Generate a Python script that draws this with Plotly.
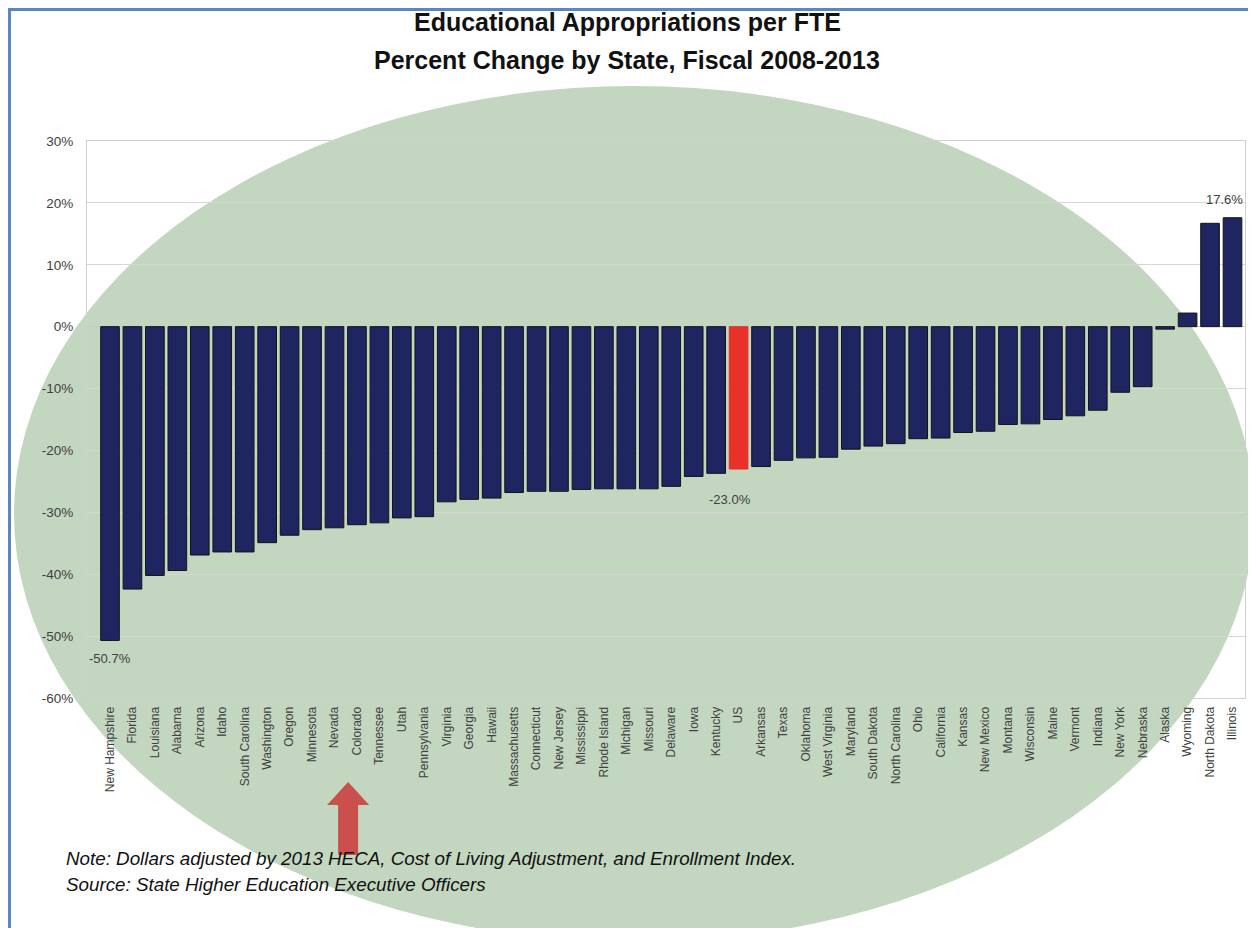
import plotly.graph_objects as go

states = ["New Hampshire", "Florida", "Louisiana", "Alabama", "Arizona", "Idaho",
          "South Carolina", "Washington", "Oregon", "Minnesota", "Nevada", "Colorado",
          "Tennessee", "Utah", "Pennsylvania", "Virginia", "Georgia", "Hawaii",
          "Massachusetts", "Connecticut", "New Jersey", "Mississippi", "Rhode Island",
          "Michigan", "Missouri", "Delaware", "Iowa", "Kentucky", "US", "Arkansas",
          "Texas", "Oklahoma", "West Virginia", "Maryland", "South Dakota",
          "North Carolina", "Ohio", "California", "Kansas", "New Mexico", "Montana",
          "Wisconsin", "Maine", "Vermont", "Indiana", "New York", "Nebraska", "Alaska",
          "Wyoming", "North Dakota", "Illinois"]

pct_change = [-50.7, -42.4, -40.2, -39.4, -36.9, -36.4,
              -36.4, -34.9, -33.7, -32.8, -32.5, -32.0,
              -31.7, -30.9, -30.7, -28.3, -27.9, -27.7,
              -26.8, -26.6, -26.6, -26.3, -26.2,
              -26.2, -26.2, -25.8, -24.2, -23.7, -23.0, -22.6,
              -21.6, -21.2, -21.1, -19.8, -19.3,
              -18.9, -18.1, -18.0, -17.1, -16.9, -15.8,
              -15.7, -15.0, -14.4, -13.5, -10.6, -9.7, -0.4,
              2.2, 16.7, 17.6]

y_ticks = [30, 20, 10, 0, -10, -20, -30, -40, -50, -60]
y_tick_labels = ["30%", "20%", "10%", "0%", "-10%", "-20%", "-30%", "-40%", "-50%", "-60%"]

labeled_states = ["New Hampshire", "US", "Illinois"]
highlight_state = "US"
arrow_state = "Colorado"

title_lines = ["Educational Appropriations per FTE", "Percent Change by State, Fiscal 2008-2013"]
note_lines = ["Note: Dollars adjusted by 2013 HECA, Cost of Living Adjustment, and Enrollment Index.",
              "Source: State Higher Education Executive Officers"]

# ---- layout geometry (page pixels; the page body adds an 8px offset) ----
OFF = 8
W, H = 1256 - OFF, 928 - OFF
PL, PR, PT, PB = 87, 1245, 141, 698        # plot area in page pixels
ML, MT = PL - OFF, PT - OFF
MR, MB = W - (PR - OFF), H - (PB - OFF)
PW, PH = PR - PL, PB - PT


def px(x):
    return (x - PL) / PW


def py(y):
    return (PB - y) / PH


NAVY = "#1f2560"
RED = "#e8312b"
GREEN = "#c3d6c0"
TXT = "#404040"
FONT = "Liberation Sans, Arial, sans-serif"

colors = [RED if s == highlight_state else NAVY for s in states]
line_colors = [RED if s == highlight_state else "#141414" for s in states]

fig = go.Figure()
fig.add_trace(go.Bar(
    x=states, y=pct_change,
    marker=dict(color=colors, line=dict(color=line_colors, width=1)),
    hoverinfo="x+y",
))

shapes = []
# green ellipse background
ecx, ecy, erx, ery = 634, 514, 620, 428
shapes.append(dict(type="circle", xref="paper", yref="paper",
                   x0=px(ecx - erx), x1=px(ecx + erx), y0=py(ecy + ery), y1=py(ecy - ery),
                   fillcolor=GREEN, line=dict(width=0), layer="below"))
# outer frame
shapes.append(dict(type="line", xref="paper", yref="paper", x0=px(OFF), x1=px(1252),
                   y0=py(OFF + 1.5), y1=py(OFF + 1.5), line=dict(color="#5a86c2", width=3), layer="above"))
shapes.append(dict(type="line", xref="paper", yref="paper", x0=px(OFF + 1.5), x1=px(OFF + 1.5),
                   y0=py(OFF), y1=py(930), line=dict(color="#5a86c2", width=3), layer="above"))
shapes.append(dict(type="line", xref="paper", yref="paper", x0=px(1250), x1=px(1250),
                   y0=py(OFF), y1=py(930), line=dict(color="#9a9a9a", width=4), layer="above"))

# block arrow under the highlighted state
ai = states.index(arrow_state)
cx = PL + (ai + 0.5) * PW / len(states)
tip, head_base, shaft_end = 782, 805, 855
hw, sw = 21, 10
pts = [(cx, tip), (cx + hw, head_base), (cx + sw, head_base), (cx + sw, shaft_end),
       (cx - sw, shaft_end), (cx - sw, head_base), (cx - hw, head_base)]
path = "M " + " L ".join(f"{px(a):.5f},{py(b):.5f}" for a, b in pts) + " Z"
shapes.append(dict(type="path", xref="paper", yref="paper", path=path,
                   fillcolor="#c9504d", line=dict(width=0), layer="above"))

annotations = []
for i, t in enumerate(title_lines):
    annotations.append(dict(xref="paper", yref="paper", x=px(627), y=py(22 + 38 * i),
                            text=f"<b>{t}</b>", showarrow=False,
                            font=dict(family=FONT, size=25, color="#111111"),
                            xanchor="center", yanchor="middle"))
for i, t in enumerate(note_lines):
    annotations.append(dict(xref="paper", yref="paper", x=px(64), y=py(858 + 26 * i),
                            text=f"<i>{t}</i>", showarrow=False,
                            font=dict(family=FONT, size=18.8, color="#111111"),
                            xanchor="left", yanchor="middle"))

label_offsets = {"New Hampshire": (0, -18), "US": (-9, -30), "Illinois": (-8, 18)}
for s in labeled_states:
    v = pct_change[states.index(s)]
    dx, dy = label_offsets[s]
    annotations.append(dict(x=s, y=v, xref="x", yref="y", text=f"{v:.1f}%",
                            showarrow=False, xshift=dx, yshift=dy,
                            font=dict(family=FONT, size=13, color=TXT),
                            xanchor="center", yanchor="middle"))

fig.update_layout(
    width=W, height=H,
    margin=dict(l=ML, r=MR, t=MT, b=MB, pad=0),
    paper_bgcolor="white", plot_bgcolor="rgba(0,0,0,0)",
    showlegend=False, bargap=0.17,
    shapes=shapes, annotations=annotations,
    font=dict(family=FONT, color=TXT),
)
fig.update_xaxes(type="category", tickangle=-90, tickfont=dict(size=12, color=TXT, family=FONT),
                 showline=True, mirror=True, linecolor="#d0d0d0", linewidth=1,
                 ticks="", showgrid=False, ticklabelstandoff=3)
fig.update_yaxes(range=[-60, 30], tickvals=y_ticks, ticktext=y_tick_labels,
                 tickfont=dict(size=13.5, color=TXT, family=FONT),
                 showgrid=True, gridcolor="#d6d6d6", gridwidth=1,
                 zeroline=True, zerolinecolor="#c8c8c8", zerolinewidth=1,
                 showline=True, mirror=True, linecolor="#d0d0d0", linewidth=1,
                 ticks="", ticklabelstandoff=10)

fig.write_html("out.html")
